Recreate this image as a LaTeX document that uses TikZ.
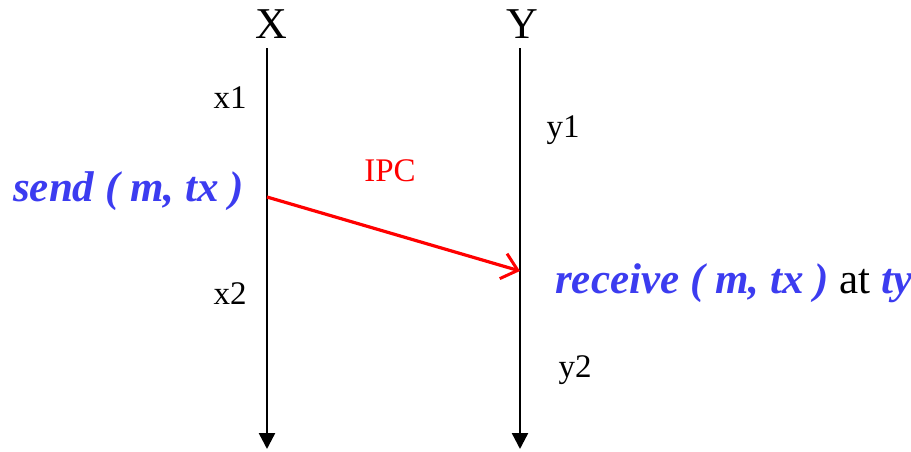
\documentclass[tikz,border=0pt]{standalone}
\usepackage{fontspec}
\setmainfont{Liberation Serif}
\usetikzlibrary{arrows.meta}
\definecolor{lblue}{RGB}{60,60,240}
\begin{document}
\begin{tikzpicture}[x=1pt,y=-1pt,
  life/.style={line width=2.4pt,-{Triangle[width=16pt,length=16pt]}},
  msg/.style={line width=3.2pt,red,-{Straight Barb[length=15pt,width=26pt,line width=3pt]}},
  proc/.style={font=\fontsize{44}{46}\selectfont,inner sep=0pt},
  lab/.style={font=\fontsize{33}{36}\selectfont,inner sep=0pt},
  call/.style={font=\fontsize{43}{46}\selectfont\bfseries\itshape,text=lblue,inner sep=0pt}]
\useasboundingbox (0,0) rectangle (911,451);
\node[proc] (X) at (271,24) {X};
\node[proc] (Y) at (522,24) {Y};
\coordinate (xt) at (267,48);
\coordinate (xb) at (267,449);
\coordinate (yt) at (520,48);
\coordinate (yb) at (520,449);
\draw[life] (xt) -- (xb);
\draw[life] (yt) -- (yb);
\coordinate (s) at (267,197);
\coordinate (r) at (520,271);
\draw[msg] (s) -- (r);
\node[lab] (x1) at (230,98) {x1};
\node[lab] (x2) at (230,294) {x2};
\node[lab] (y1) at (563,130) {y1};
\node[lab] (y2) at (575,370) {y2};
\node[lab,red] (ipc) at (390,171) {IPC};
\node[call,anchor=west] (send) at (13,191) {send ( m, tx )};
\node[call,anchor=west] (recv) at (555,283) {receive ( m, tx )\textcolor{black}{\mdseries\upshape\ at }ty};
\end{tikzpicture}
\end{document}
